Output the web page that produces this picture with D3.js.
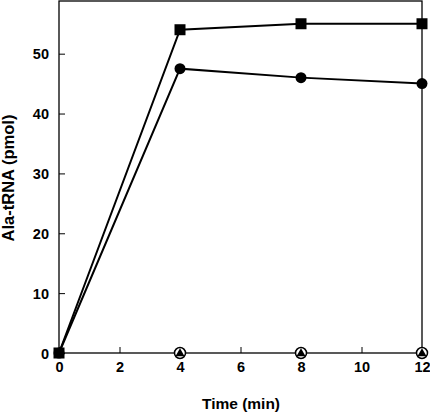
<!DOCTYPE html>
<html><head><meta charset="utf-8">
<script src="https://cdn.jsdelivr.net/npm/d3@7"></script>
<style>body{margin:0;background:#fff}svg{display:block}text{font-family:"Liberation Sans",Arial,sans-serif;font-weight:bold}</style>
</head><body><svg id="c" width="430" height="414"></svg>
<script>
const times = [0, 4, 8, 12];
const squareSeries = [0, 54, 55, 55];
const circleSeries = [0, 47.5, 46, 45];
const triangleSeries = [0, 0, 0, 0];
const xTicks = [0, 2, 4, 6, 8, 10, 12];
const yTicks = [0, 10, 20, 30, 40, 50];

const svg = d3.select("#c");
const m = {l: 59, r: 8, t: 1, b: 61};
const W = 430, H = 414;
const x = d3.scaleLinear().domain([0, 12]).range([m.l, W - m.r]);
const y = d3.scaleLinear().domain([0, 58.8]).range([H - m.b, m.t]);

svg.append("rect").attr("x", m.l).attr("y", m.t).attr("width", W - m.r - m.l).attr("height", H - m.b - m.t)
  .attr("fill", "none").attr("stroke", "#000").attr("stroke-width", 1.3);

const xa = svg.append("g").attr("transform", `translate(0,${H - m.b})`)
  .call(d3.axisBottom(x).tickValues(xTicks).tickSize(-6).tickPadding(9).tickFormat(d3.format("d")));
const ya = svg.append("g").attr("transform", `translate(${m.l},0)`)
  .call(d3.axisLeft(y).tickValues(yTicks).tickSize(-6).tickPadding(10).tickFormat(d3.format("d")));
[xa, ya].forEach(a => {
  a.select(".domain").remove();
  a.selectAll("line").attr("stroke", "#000").attr("stroke-width", 1);
  a.selectAll("text").attr("font-size", 14.5).attr("fill", "#000");
});
ya.selectAll("text").attr("dy", "0.35em");

svg.append("text").attr("x", 241).attr("y", 409).attr("text-anchor", "middle").attr("font-size", 15.5).text("Time (min)");
svg.append("text").attr("transform", `translate(14,178) rotate(-90)`).attr("text-anchor", "middle").attr("font-size", 16.5).text("Ala-tRNA (pmol)");

const line = d3.line().x((d, i) => x(times[i])).y(d => y(d));
[squareSeries, circleSeries].forEach(s => {
  svg.append("path").datum(s).attr("d", line).attr("fill", "none").attr("stroke", "#000").attr("stroke-width", 2);
});
triangleSeries.forEach((v, i) => {
  if (i === 0) return;
  const g = svg.append("g").attr("transform", `translate(${x(times[i])},${y(v)})`);
  g.append("circle").attr("r", 5.5).attr("fill", "#fff").attr("stroke", "#000").attr("stroke-width", 1.5);
  g.append("path").attr("d", d3.symbol(d3.symbolTriangle, 36)()).attr("fill", "#000").attr("transform", "translate(0,0.5)");
});
circleSeries.forEach((v, i) => {
  svg.append("circle").attr("cx", x(times[i])).attr("cy", y(v)).attr("r", 5.5).attr("fill", "#000");
});
squareSeries.forEach((v, i) => {
  svg.append("rect").attr("x", x(times[i]) - 5.5).attr("y", y(v) - 5.5).attr("width", 11).attr("height", 11).attr("fill", "#000");
});
</script></body></html>
